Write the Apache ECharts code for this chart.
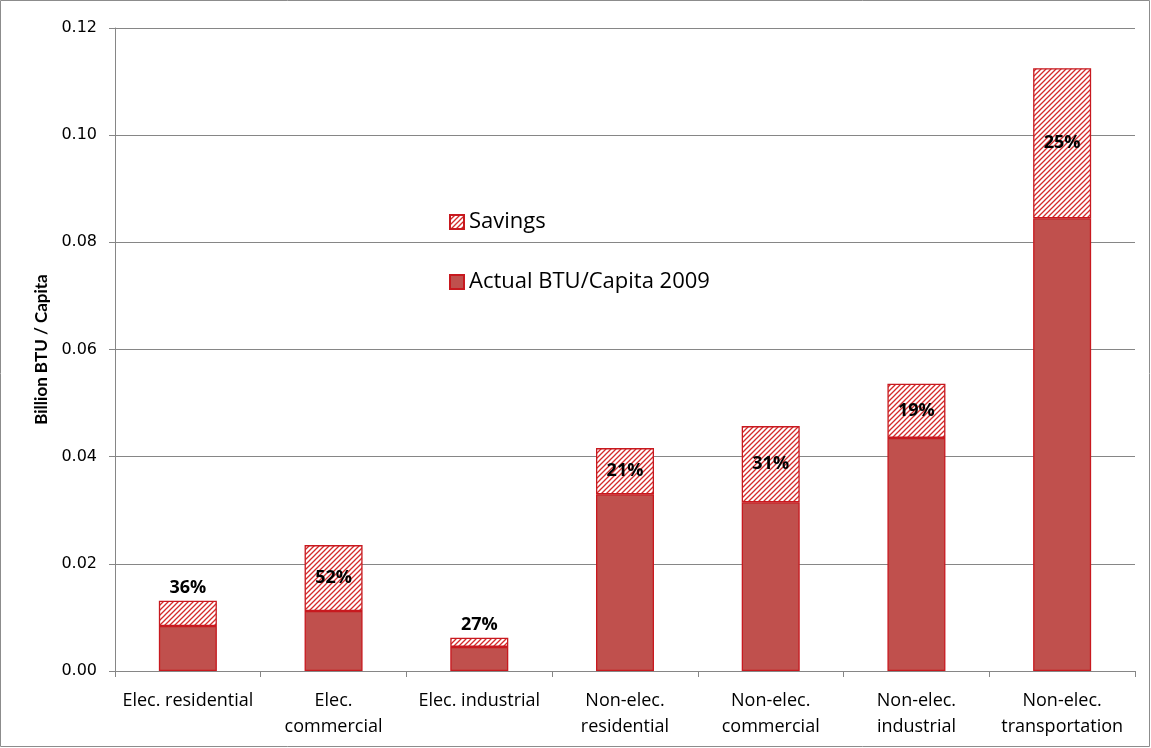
<!DOCTYPE html>
<html><head><meta charset="utf-8">
<script src="https://cdn.jsdelivr.net/npm/echarts@6/dist/echarts.min.js"></script>
<style>html,body{margin:0;padding:0;background:#fff}#c{width:1151px;height:748px}</style>
</head><body><div id="c"></div>
<script>
const categories = ['Elec. residential','Elec.\ncommercial','Elec. industrial','Non-elec.\nresidential','Non-elec.\ncommercial','Non-elec.\nindustrial','Non-elec.\ntransportation'];
const actual = [0.0084, 0.0112, 0.0045, 0.0330, 0.0315, 0.0435, 0.0845];
const savings = [0.0047, 0.0123, 0.0017, 0.0086, 0.0142, 0.0101, 0.0280];
const pctLabels = ['36%','52%','27%','21%','31%','19%','25%'];
const labelAbove = [true, false, true, false, false, false, false];
const yTicks = [0, 0.02, 0.04, 0.06, 0.08, 0.10, 0.12];

const cv = document.createElement('canvas');
cv.width = 5; cv.height = 5;
const ctx = cv.getContext('2d');
ctx.fillStyle = '#fff'; ctx.fillRect(0,0,5,5);
ctx.strokeStyle = '#D42A2A'; ctx.lineWidth = 1.3;
ctx.beginPath();
ctx.moveTo(-1,6); ctx.lineTo(6,-1);
ctx.moveTo(-1,1); ctx.lineTo(1,-1);
ctx.moveTo(4,6); ctx.lineTo(6,4);
ctx.stroke();
const hatch = {image: cv, repeat: 'repeat'};

const chart = echarts.init(document.getElementById('c'));
const font = '"Open Sans", Lato, sans-serif';
chart.setOption({
  animation: false,
  textStyle: {fontFamily: font},
  graphic: [{type:'rect', shape:{x:0.5,y:0.5,width:1149,height:746}, style:{fill:'none', stroke:'#8c8c8c', lineWidth:1}}],
  grid: {left: 115, right: 16, top: 28, bottom: 77},
  legend: {
    orient: 'vertical', left: 444, top: 206, itemGap: 38, itemWidth: 14, itemHeight: 14, icon: 'rect',
    textStyle: {fontSize: 22, color: '#000', fontFamily: font},
    data: ['Savings', 'Actual BTU/Capita 2009']
  },
  xAxis: {
    type: 'category', data: categories,
    axisLine: {lineStyle: {color: '#868686'}},
    axisTick: {show: true, length: 6, lineStyle: {color: '#868686'}},
    axisLabel: {color: '#000', fontSize: 18, margin: 17, lineHeight: 26, interval: 0, fontFamily: font}
  },
  yAxis: {
    type: 'value', min: 0, max: 0.12, interval: 0.02,
    name: 'Billion BTU / Capita', nameLocation: 'middle', nameGap: 62,
    nameTextStyle: {fontSize: 17, fontWeight: 'bold', color: '#000', fontFamily: 'Lato, sans-serif'},
    axisLine: {show: true, lineStyle: {color: '#868686'}},
    axisTick: {show: true, length: 6, lineStyle: {color: '#868686'}},
    axisLabel: {color: '#000', fontSize: 16, margin: 18, fontFamily: '"DejaVu Sans", sans-serif',
      formatter: v => v.toFixed(2)},
    splitLine: {lineStyle: {color: '#868686', width: 1}}
  },
  series: [
    {
      name: 'Actual BTU/Capita 2009', type: 'bar', stack: 's', barWidth: 58,
      itemStyle: {color: '#C0504D', borderColor: '#C8191F', borderWidth: 1.3},
      data: actual
    },
    {
      name: 'Savings', type: 'bar', stack: 's', barWidth: 58,
      itemStyle: {color: hatch, borderColor: '#C8191F', borderWidth: 1.3},
      data: savings.map((v, i) => ({
        value: v,
        label: {show: true, position: labelAbove[i] ? 'top' : 'inside', distance: 4,
          formatter: pctLabels[i], fontSize: 18, fontWeight: 'bold', color: '#000', fontFamily: font}
      }))
    }
  ]
});
</script></body></html>
